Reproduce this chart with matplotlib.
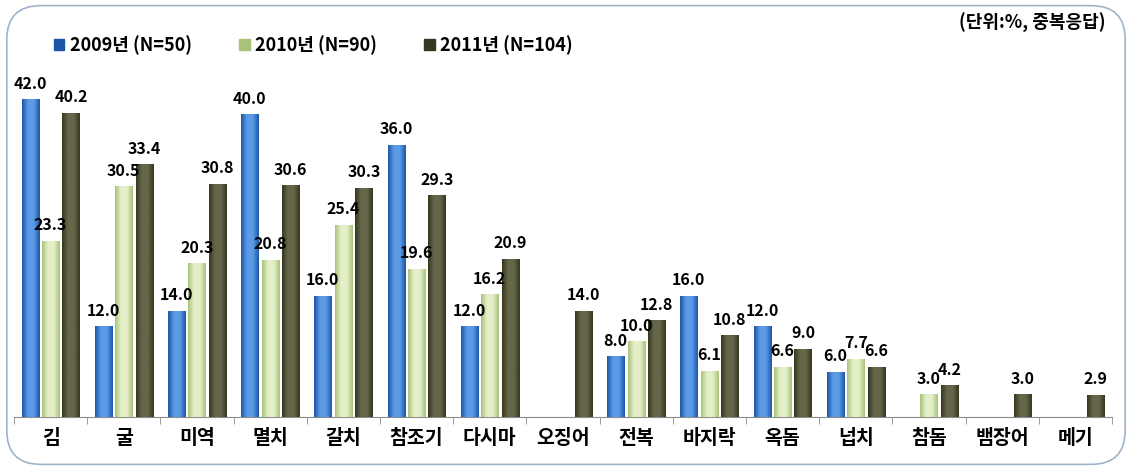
import matplotlib
matplotlib.use('Agg')
import matplotlib.pyplot as plt
import numpy as np
from matplotlib.patches import FancyBboxPatch
from matplotlib.colors import LinearSegmentedColormap

plt.rcParams['font.family'] = ['Noto Sans CJK KR', 'DejaVu Sans']
plt.rcParams['font.weight'] = 'bold'

categories = ['김', '굴', '미역', '멸치', '갈치', '참조기', '다시마', '오징어',
              '전복', '바지락', '옥돔', '넙치', '참돔', '뱀장어', '메기']
series_names = ['2009년 (N=50)', '2010년 (N=90)', '2011년 (N=104)']
y2009 = [42.0, 12.0, 14.0, 40.0, 16.0, 36.0, 12.0, np.nan, 8.0, 16.0, 12.0, 6.0, np.nan, np.nan, np.nan]
y2010 = [23.3, 30.5, 20.3, 20.8, 25.4, 19.6, 16.2, np.nan, 10.0, 6.1, 6.6, 7.7, 3.0, np.nan, np.nan]
y2011 = [40.2, 33.4, 30.8, 30.6, 30.3, 29.3, 20.9, 14.0, 12.8, 10.8, 9.0, 6.6, 4.2, 3.0, 2.9]
unit_text = '(단위:%, 중복응답)'

# edge, center colours for the cylinder-ish shading
shades = [('#1d56a6', '#5b9be6'), ('#a9c27a', '#e4efc8'), ('#37371f', '#66664a')]

fig = plt.figure(figsize=(11.32, 4.70), dpi=100)
frame = FancyBboxPatch((0.006, 0.012), 0.988, 0.976, boxstyle='round,pad=0,rounding_size=0.03',
                       transform=fig.transFigure, fill=False, edgecolor='#9fb3c8', linewidth=1.2,
                       mutation_aspect=1132 / 470)
fig.patches.append(frame)

ax = fig.add_axes([14 / 1132, 53 / 470, 1098 / 1132, 340.6 / 470])
x = np.arange(len(categories))
offsets = [-0.28, 0.0, 0.28]
width = 0.235

handles = []
for vals, off, (c_edge, c_mid) in zip([y2009, y2010, y2011], offsets, shades):
    vals = np.array(vals, dtype=float)
    mask = ~np.isnan(vals)
    bars = ax.bar(x[mask] + off, vals[mask], width=width, color=c_edge, edgecolor='none', zorder=2)
    handles.append(bars)
    cmap = LinearSegmentedColormap.from_list('s', [c_edge, c_mid, c_mid, c_edge])
    grad = np.linspace(0, 1, 64).reshape(1, -1)
    for b, v in zip(bars, vals[mask]):
        bx, bw = b.get_x(), b.get_width()
        im = ax.imshow(grad, cmap=cmap, aspect='auto', extent=[bx, bx + bw, 0, v], zorder=3)
        im.set_clip_path(b)
        ax.text(bx + bw / 2, v + 1.0, f'{v:.1f}', ha='center', va='bottom',
                fontsize=11.5, fontweight='bold', color='black', zorder=4)

ax.set_xlim(-0.5, len(categories) - 0.5)
ax.set_ylim(0, 45)
for s in ['top', 'right', 'left']:
    ax.spines[s].set_visible(False)
ax.spines['bottom'].set_color('#8c8c8c')
ax.set_yticks([])
ax.set_xticks(x)
ax.set_xticklabels(categories, fontsize=14, fontweight='bold')
ax.tick_params(axis='x', which='major', length=0, pad=9)
ax.set_xticks(np.arange(len(categories) + 1) - 0.5, minor=True)
ax.tick_params(axis='x', which='minor', length=5, color='#8c8c8c', direction='out')

leg = fig.legend([h[0] for h in handles], series_names, loc='upper left', bbox_to_anchor=(0.033, 0.96),
                 ncol=3, frameon=False, handlelength=0.6, handleheight=0.6, handletextpad=0.3,
                 columnspacing=2.6, prop={'weight': 'bold', 'size': 13})
for h, (c_edge, c_mid) in zip(leg.legend_handles, shades):
    h.set_color(c_edge)

fig.text(0.977, 0.952, unit_text, ha='right', va='center', fontsize=13, fontweight='bold')

fig.savefig('out.png', dpi=100)
